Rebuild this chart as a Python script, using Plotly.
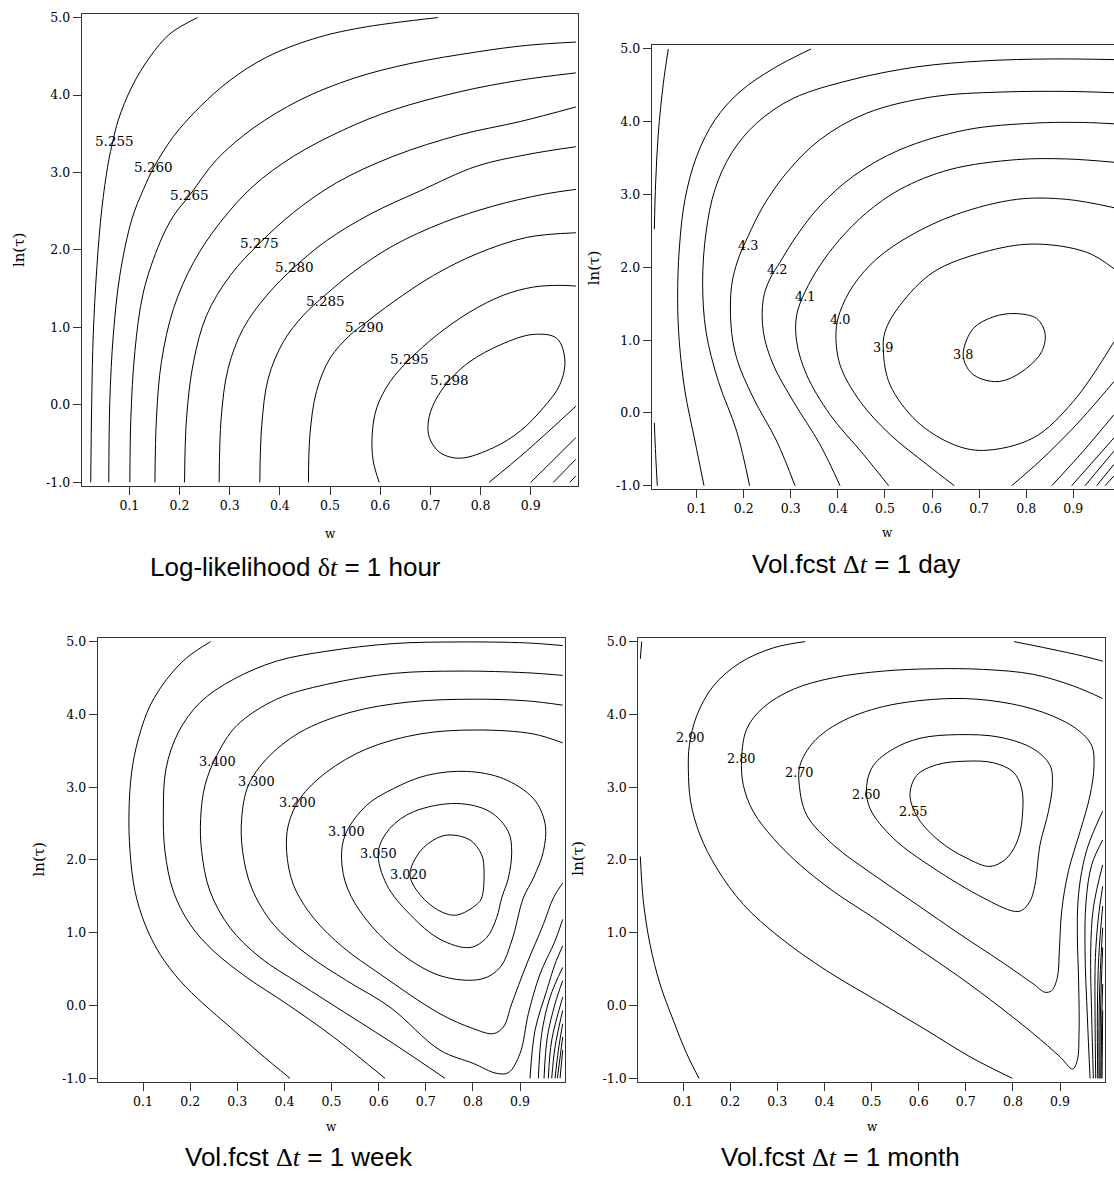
import plotly.graph_objects as go

# ---------------- axis ticks ----------------
X_TICKS = [0.1, 0.2, 0.3, 0.4, 0.5, 0.6, 0.7, 0.8, 0.9]
X_TICK_TEXT = ["0.1", "0.2", "0.3", "0.4", "0.5", "0.6", "0.7", "0.8", "0.9"]
Y_TICKS = [-1, 0, 1, 2, 3, 4, 5]
Y_TICK_TEXT = ["-1.0", "0.0", "1.0", "2.0", "3.0", "4.0", "5.0"]

PANEL_TITLES = [
    "Log-likelihood <span style=\"font-family:'Liberation Serif'\">δ<i>t</i></span> = 1 hour",
    "Vol.fcst <span style=\"font-family:'Liberation Serif'\">Δ<i>t</i></span> = 1 day",
    "Vol.fcst <span style=\"font-family:'Liberation Serif'\">Δ<i>t</i></span> = 1 week",
    "Vol.fcst <span style=\"font-family:'Liberation Serif'\">Δ<i>t</i></span> = 1 month",
]
X_TITLE = "w"
Y_TITLE = "ln(τ)"

# ---------------- panel 1: log-likelihood, 1 hour ----------------
P1_LEVELS = [5.255, 5.260, 5.265, 5.270, 5.275, 5.280, 5.285, 5.290, 5.295, 5.298,
             5.295, 5.290, 5.285, 5.280]
P1_W = [
    [0.023, 0.025, 0.028, 0.035, 0.045, 0.058, 0.067, 0.078, 0.105, 0.141, 0.181, 0.236],
    [0.059, 0.061, 0.068, 0.081, 0.105, 0.128, 0.149, 0.188, 0.241, 0.301, 0.374, 0.467, 0.560, 0.715],
    [0.101, 0.103, 0.111, 0.128, 0.161, 0.188, 0.220, 0.274, 0.347, 0.440, 0.546, 0.659, 0.792, 0.892, 0.990],
    [0.151, 0.154, 0.164, 0.188, 0.228, 0.281, 0.347, 0.427, 0.527, 0.626, 0.759, 0.879, 0.990],
    [0.210, 0.214, 0.228, 0.254, 0.301, 0.360, 0.427, 0.513, 0.626, 0.759, 0.879, 0.990],
    [0.279, 0.283, 0.297, 0.327, 0.374, 0.429, 0.493, 0.580, 0.679, 0.792, 0.892, 0.990],
    [0.360, 0.364, 0.377, 0.407, 0.447, 0.490, 0.546, 0.626, 0.726, 0.826, 0.925, 0.990],
    [0.457, 0.460, 0.473, 0.500, 0.540, 0.569, 0.626, 0.706, 0.792, 0.892, 0.990],
    [0.598, 0.586, 0.584, 0.593, 0.620, 0.659, 0.713, 0.779, 0.845, 0.905, 0.958, 0.990],
    [0.739, 0.779, 0.839, 0.905, 0.952, 0.968, 0.958, 0.925, 0.879, 0.826, 0.759, 0.719, 0.698, 0.696, 0.709, 0.739],
    [0.817, 0.892, 0.990],
    [0.900, 0.990],
    [0.945, 0.990],
    [0.978, 0.990],
]
P1_TAU = [
    [-1.0, 0.047, 0.902, 1.756, 2.526, 3.124, 3.402, 3.679, 4.107, 4.491, 4.791, 5.0],
    [-1.0, 0.047, 0.902, 1.671, 2.397, 2.782, 3.068, 3.466, 3.850, 4.192, 4.491, 4.726, 4.867, 5.0],
    [-1.0, -0.167, 0.688, 1.457, 2.098, 2.440, 2.705, 3.167, 3.573, 3.936, 4.214, 4.406, 4.556, 4.641, 4.684],
    [-1.0, -0.167, 0.560, 1.244, 1.842, 2.355, 2.825, 3.209, 3.551, 3.808, 4.043, 4.192, 4.286],
    [-1.0, -0.167, 0.560, 1.158, 1.671, 2.090, 2.483, 2.868, 3.209, 3.487, 3.658, 3.846],
    [-1.0, -0.167, 0.474, 0.987, 1.415, 1.778, 2.120, 2.462, 2.761, 3.081, 3.231, 3.333],
    [-1.0, -0.252, 0.346, 0.816, 1.158, 1.415, 1.714, 2.056, 2.355, 2.568, 2.718, 2.782],
    [-1.0, -0.380, 0.175, 0.603, 0.902, 1.051, 1.329, 1.671, 1.949, 2.162, 2.222],
    [-1.0, -0.722, -0.380, -0.038, 0.303, 0.590, 0.902, 1.201, 1.415, 1.521, 1.543, 1.534],
    [0.325, 0.560, 0.774, 0.910, 0.859, 0.581, 0.261, -0.038, -0.338, -0.551, -0.688, -0.615, -0.423, -0.209, 0.047, 0.325],
    [-1.0, -0.594, -0.017],
    [-1.0, -0.423],
    [-1.0, -0.701],
    [-1.0, -0.915],
]
P1_LABELS = ["5.255", "5.260", "5.265", "5.275", "5.280", "5.285", "5.290", "5.295", "5.298"]
P1_LABEL_W = [0.070, 0.149, 0.220, 0.360, 0.429, 0.490, 0.569, 0.659, 0.739]
P1_LABEL_TAU = [3.402, 3.068, 2.705, 2.090, 1.778, 1.342, 1.009, 0.590, 0.325]

# ---------------- panel 2: vol forecast, 1 day ----------------
P2_LEVELS = [4.7, 4.7, 4.5, 4.4, 4.3, 4.2, 4.1, 4.0, 3.9, 3.8, 4.0, 4.1, 4.2, 4.3, 4.4, 4.5]
P2_W = [
    [0.0398, 0.0292, 0.0186, 0.0129, 0.0101],
    [0.0101, 0.0129, 0.0164],
    [0.1156, 0.0964, 0.0752, 0.0631, 0.0596, 0.0631, 0.0752, 0.1000, 0.1389, 0.1920, 0.2628, 0.3428],
    [0.2125, 0.1850, 0.1461, 0.1199, 0.1127, 0.1199, 0.1389, 0.1743, 0.2274, 0.3053, 0.4257, 0.5674, 0.7089, 0.8507, 0.9865],
    [0.3089, 0.2699, 0.2204, 0.1850, 0.1729, 0.1743, 0.1884, 0.2097, 0.2416, 0.2911, 0.3619, 0.4612, 0.6027, 0.7443, 0.8860, 0.9865],
    [0.4045, 0.3619, 0.3053, 0.2628, 0.2416, 0.2416, 0.2558, 0.2770, 0.3124, 0.3619, 0.4328, 0.5320, 0.6735, 0.8152, 0.9214, 0.9865],
    [0.5079, 0.4540, 0.3832, 0.3336, 0.3124, 0.3124, 0.3301, 0.3619, 0.4045, 0.4612, 0.5320, 0.6381, 0.7798, 0.8860, 0.9865],
    [0.6473, 0.5886, 0.5107, 0.4471, 0.4045, 0.3960, 0.4045, 0.4328, 0.4824, 0.5532, 0.6523, 0.7798, 0.8860, 0.9865],
    [0.9865, 0.9285, 0.8152, 0.7089, 0.6027, 0.5320, 0.5001, 0.4966, 0.5107, 0.5674, 0.6452, 0.7089, 0.8152, 0.9002, 0.9865],
    [0.6664, 0.6877, 0.7302, 0.7762, 0.8222, 0.8401, 0.8330, 0.8011, 0.7586, 0.7266, 0.6877, 0.6700, 0.6664],
    [0.7691, 0.8293, 0.9002, 0.9567, 0.9865],
    [0.8542, 0.9214, 0.9865],
    [0.8966, 0.9865],
    [0.9249, 0.9865],
    [0.9497, 0.9865],
    [0.9674, 0.9865],
]
P2_TAU = [
    [5.0, 4.527, 3.845, 3.162, 2.525],
    [-0.137, -0.569, -1.0],
    [-1.0, -0.386, 0.296, 0.979, 1.570, 2.252, 2.934, 3.526, 4.026, 4.413, 4.731, 5.0],
    [-1.0, -0.251, 0.433, 1.115, 1.797, 2.479, 3.071, 3.571, 3.981, 4.322, 4.572, 4.754, 4.836, 4.863, 4.854],
    [-1.0, -0.386, 0.205, 0.751, 1.206, 1.752, 2.116, 2.434, 2.843, 3.299, 3.754, 4.118, 4.345, 4.408, 4.417, 4.399],
    [-1.0, -0.433, 0.159, 0.660, 1.115, 1.570, 1.843, 2.070, 2.434, 2.843, 3.253, 3.617, 3.890, 3.981, 3.990, 3.972],
    [-1.0, -0.568, -0.023, 0.524, 0.979, 1.343, 1.661, 2.025, 2.388, 2.752, 3.071, 3.344, 3.480, 3.489, 3.444],
    [-1.0, -0.706, -0.295, 0.159, 0.660, 1.115, 1.388, 1.752, 2.116, 2.434, 2.729, 2.934, 2.934, 2.820],
    [1.980, 2.207, 2.320, 2.207, 1.934, 1.479, 1.115, 0.842, 0.387, -0.114, -0.433, -0.515, -0.342, 0.159, 0.979],
    [0.842, 1.161, 1.320, 1.365, 1.297, 1.092, 0.842, 0.615, 0.456, 0.433, 0.524, 0.683, 0.842],
    [-1.0, -0.659, -0.205, 0.205, 0.433],
    [-1.0, -0.524, -0.023],
    [-1.0, -0.342],
    [-1.0, -0.524],
    [-1.0, -0.706],
    [-1.0, -0.865],
]
P2_LABELS = ["4.3", "4.2", "4.1", "4.0", "3.9", "3.8"]
P2_LABEL_W = [0.2097, 0.2699, 0.3301, 0.4045, 0.4966, 0.6664]
P2_LABEL_TAU = [2.298, 1.971, 1.593, 1.288, 0.897, 0.806]

# ---------------- panel 3: vol forecast, 1 week ----------------
P3_LEVELS = [3.600, 3.500, 3.400, 3.300, 3.200, 3.100, 3.050, 3.020,
             3.400, 3.500, 3.600, 3.700, 3.800, 3.900, 4.000, 4.100]
P3_W = [
    [0.2435, 0.1926, 0.1502, 0.1148, 0.0900, 0.0759, 0.0702, 0.0724, 0.0830, 0.1042, 0.1360, 0.1785, 0.2280, 0.2846, 0.3482, 0.4119],
    [0.9905, 0.9141, 0.7727, 0.6312, 0.4897, 0.3836, 0.2916, 0.2209, 0.1749, 0.1487, 0.1431, 0.1466, 0.1643, 0.1997, 0.2492, 0.3199, 0.4048, 0.5039, 0.6135],
    [0.9905, 0.9141, 0.7727, 0.6312, 0.4897, 0.3836, 0.2987, 0.2563, 0.2315, 0.2223, 0.2244, 0.2421, 0.2846, 0.3482, 0.4331, 0.5321, 0.6312, 0.7408],
    [0.9905, 0.9141, 0.8009, 0.6665, 0.5392, 0.4331, 0.3624, 0.3235, 0.3093, 0.3114, 0.3305, 0.3765, 0.4473, 0.5321, 0.6241, 0.7302, 0.8009, 0.8504, 0.8752, 0.9000, 0.9176, 0.9424, 0.9743, 0.9905],
    [0.9905, 0.9283, 0.8080, 0.6877, 0.5746, 0.4897, 0.4331, 0.4083, 0.4048, 0.4190, 0.4614, 0.5251, 0.6029, 0.7302, 0.8009, 0.8434, 0.8646, 0.8823, 0.9141, 0.9495, 0.9707, 0.9905],
    [0.5321, 0.5746, 0.6312, 0.7019, 0.7868, 0.8646, 0.9283, 0.9530, 0.9495, 0.9283, 0.9070, 0.8823, 0.8575, 0.8186, 0.7302, 0.6312, 0.5604, 0.5286, 0.5215, 0.5321],
    [0.5993, 0.6241, 0.6736, 0.7656, 0.8363, 0.8752, 0.8823, 0.8752, 0.8611, 0.8504, 0.8292, 0.7938, 0.7302, 0.6665, 0.6170, 0.5993],
    [0.6665, 0.6877, 0.7231, 0.7514, 0.7938, 0.8186, 0.8236, 0.8186, 0.8080, 0.7656, 0.7302, 0.6877, 0.6665],
    [0.9212, 0.9318, 0.9566, 0.9743, 0.9905],
    [0.9389, 0.9460, 0.9637, 0.9905],
    [0.9509, 0.9580, 0.9743, 0.9905],
    [0.9601, 0.9672, 0.9905],
    [0.9672, 0.9743, 0.9905],
    [0.9743, 0.9813, 0.9905],
    [0.9792, 0.9905],
    [0.9849, 0.9905],
]
P3_TAU = [
    [5.0, 4.777, 4.481, 4.118, 3.663, 3.208, 2.662, 2.116, 1.570, 1.116, 0.706, 0.342, 0.024, -0.295, -0.658, -1.0],
    [4.945, 4.982, 4.995, 4.973, 4.868, 4.732, 4.481, 4.163, 3.754, 3.253, 2.662, 2.116, 1.570, 1.116, 0.752, 0.388, 0.024, -0.431, -1.0],
    [4.536, 4.572, 4.595, 4.563, 4.413, 4.209, 3.845, 3.435, 3.026, 2.571, 2.116, 1.570, 1.070, 0.661, 0.297, -0.113, -0.522, -1.0],
    [4.127, 4.186, 4.209, 4.172, 4.027, 3.754, 3.390, 3.026, 2.571, 2.116, 1.616, 1.116, 0.706, 0.342, -0.022, -0.613, -0.795, -0.931, -0.922, -0.658, -0.113, 0.433, 0.888, 1.184],
    [3.608, 3.731, 3.786, 3.731, 3.526, 3.208, 2.844, 2.480, 2.116, 1.661, 1.207, 0.797, 0.433, -0.113, -0.317, -0.386, -0.295, 0.024, 0.570, 1.116, 1.479, 1.684],
    [2.389, 2.753, 2.980, 3.162, 3.217, 3.117, 2.844, 2.503, 2.116, 1.752, 1.479, 0.888, 0.524, 0.365, 0.411, 0.797, 1.297, 1.707, 2.116, 2.389],
    [2.116, 2.435, 2.662, 2.776, 2.662, 2.389, 2.116, 1.752, 1.479, 1.207, 0.934, 0.797, 0.911, 1.252, 1.661, 2.116],
    [1.798, 2.116, 2.298, 2.344, 2.275, 2.071, 1.843, 1.479, 1.389, 1.243, 1.297, 1.525, 1.798],
    [-1.0, -0.340, 0.206, 0.570, 0.820],
    [-1.0, -0.386, 0.115, 0.524],
    [-1.0, -0.431, 0.024, 0.342],
    [-1.0, -0.476, 0.115],
    [-1.0, -0.567, -0.067],
    [-1.0, -0.613, -0.249],
    [-1.0, -0.431],
    [-1.0, -0.613],
]
P3_LABELS = ["3.400", "3.300", "3.200", "3.100", "3.050", "3.020"]
P3_LABEL_W = [0.2584, 0.3398, 0.4282, 0.5321, 0.6007, 0.6630]
P3_LABEL_TAU = [3.358, 3.085, 2.789, 2.389, 2.093, 1.798]

# ---------------- panel 4: vol forecast, 1 month ----------------
P4_LEVELS = [3.00, 3.00, 2.90, 2.90, 2.80, 2.70, 2.60, 2.55,
             2.90, 3.00, 3.10, 3.20, 3.30, 3.40, 3.50, 3.60]
P4_W = [
    [0.0123, 0.0094],
    [0.0094, 0.0158, 0.0299, 0.0511, 0.0794, 0.1077, 0.1339],
    [0.3588, 0.2916, 0.2209, 0.1643, 0.1290, 0.1134, 0.1113, 0.1162, 0.1360, 0.1714, 0.2280, 0.3058, 0.4048, 0.5109, 0.6170, 0.7090, 0.7988],
    [0.8023, 0.8787, 0.9495, 0.9905],
    [0.9905, 0.9283, 0.8434, 0.7373, 0.6312, 0.5251, 0.4190, 0.3341, 0.2704, 0.2351, 0.2244, 0.2280, 0.2492, 0.2916, 0.3482, 0.4190, 0.5039, 0.5958, 0.6877, 0.7727, 0.8434, 0.9000, 0.9268, 0.9367, 0.9403, 0.9396, 0.9367, 0.9381, 0.9460, 0.9601, 0.9905],
    [0.6665, 0.7727, 0.8646, 0.9353, 0.9672, 0.9721, 0.9637, 0.9424, 0.9176, 0.9035, 0.8985, 0.8944, 0.8823, 0.8682, 0.8434, 0.7727, 0.6877, 0.5958, 0.5039, 0.4190, 0.3624, 0.3468, 0.3482, 0.3765, 0.4331, 0.5251, 0.6665],
    [0.6843, 0.7727, 0.8434, 0.8788, 0.8837, 0.8752, 0.8575, 0.8469, 0.8363, 0.8186, 0.8009, 0.7373, 0.6312, 0.5463, 0.4968, 0.4897, 0.5039, 0.5463, 0.6029, 0.6843],
    [0.7019, 0.7585, 0.8009, 0.8186, 0.8207, 0.8116, 0.7868, 0.7514, 0.7019, 0.6453, 0.5993, 0.5816, 0.5960, 0.6382, 0.7019],
    [0.9637, 0.9580, 0.9530, 0.9552, 0.9672, 0.9905],
    [0.9707, 0.9672, 0.9651, 0.9707, 0.9905],
    [0.9757, 0.9743, 0.9750, 0.9813, 0.9905],
    [0.9800, 0.9792, 0.9821, 0.9905],
    [0.9828, 0.9828, 0.9856, 0.9905],
    [0.9849, 0.9856, 0.9905],
    [0.9870, 0.9884, 0.9905],
    [0.9891, 0.9905],
]
P4_TAU = [
    [5.0, 4.763],
    [2.048, 1.434, 0.843, 0.297, -0.204, -0.658, -1.0],
    [5.0, 4.914, 4.709, 4.390, 3.981, 3.572, 3.253, 2.799, 2.344, 1.889, 1.389, 0.934, 0.479, 0.069, -0.340, -0.704, -1.0],
    [5.0, 4.900, 4.800, 4.732],
    [4.218, 4.390, 4.550, 4.618, 4.627, 4.595, 4.504, 4.345, 4.095, 3.799, 3.390, 3.026, 2.662, 2.298, 1.934, 1.570, 1.207, 0.797, 0.388, -0.022, -0.386, -0.704, -0.872, -0.749, -0.386, 0.297, 0.979, 1.434, 1.843, 2.207, 2.671],
    [4.218, 4.172, 4.027, 3.799, 3.572, 3.299, 2.889, 2.389, 1.843, 1.297, 0.752, 0.388, 0.206, 0.183, 0.297, 0.615, 0.979, 1.389, 1.798, 2.207, 2.617, 3.026, 3.299, 3.617, 3.890, 4.108, 4.218],
    [3.722, 3.686, 3.526, 3.299, 3.026, 2.662, 2.207, 1.661, 1.434, 1.307, 1.297, 1.479, 1.889, 2.298, 2.708, 3.026, 3.299, 3.526, 3.672, 3.722],
    [3.358, 3.335, 3.208, 2.980, 2.662, 2.298, 2.025, 1.912, 2.025, 2.253, 2.571, 2.889, 3.162, 3.308, 3.358],
    [-1.0, -0.158, 0.752, 1.434, 1.934, 2.275],
    [-1.0, -0.158, 0.752, 1.343, 1.934],
    [-1.0, -0.158, 0.661, 1.207, 1.639],
    [-1.0, -0.158, 0.661, 1.366],
    [-1.0, -0.158, 0.479, 1.070],
    [-1.0, -0.158, 0.797],
    [-1.0, -0.249, 0.297],
    [-1.0, -0.067],
]
P4_LABELS = ["2.90", "2.80", "2.70", "2.60", "2.55"]
P4_LABEL_W = [0.1148, 0.2244, 0.3461, 0.4897, 0.5889]
P4_LABEL_TAU = [3.686, 3.390, 3.199, 2.903, 2.671]

# ---------------- figure ----------------
FIG_W, FIG_H = 1114, 1178
FRAME = "#333333"

def px_x(p):
    return p / FIG_W

def px_y(p):
    return 1 - p / FIG_H

# panel frames in pixels: left, right, top, bottom ; data ranges
PANELS = [
    dict(W=P1_W, T=P1_TAU, LT=P1_LABELS, LW=P1_LABEL_W, LY=P1_LABEL_TAU,
         box=(81.7, 578.3, 10.0, 485.0), xr=[0.0050, 0.9948], yr=[-1.043, 5.047],
         lab=13.5, xt=(330.0, 533.7), yt=(19.8, 248.0), tt=(295.0, 566.5), mirror_y=True),
    dict(W=P2_W, T=P2_TAU, LT=P2_LABELS, LW=P2_LABEL_W, LY=P2_LABEL_TAU,
         box=(651.7, 1114.0, 41.7, 488.3), xr=[0.0045, 0.9865], yr=[-1.045, 5.049],
         lab=12.8, xt=(887.0, 532.7), yt=(594.0, 266.0), tt=(856.5, 564.0), mirror_y=False),
    dict(W=P3_W, T=P3_TAU, LT=P3_LABELS, LW=P3_LABEL_W, LY=P3_LABEL_TAU,
         box=(97.7, 565.0, 638.3, 1085.0), xr=[0.0038, 0.9954], yr=[-1.045, 5.050],
         lab=12.8, xt=(331.0, 1130.5), yt=(39.4, 861.0), tt=(299.0, 1160.7), mirror_y=True),
    dict(W=P4_W, T=P4_TAU, LT=P4_LABELS, LW=P4_LABEL_W, LY=P4_LABEL_TAU,
         box=(638.3, 1105.0, 638.3, 1085.0), xr=[0.0051, 0.9954], yr=[-1.045, 5.050],
         lab=12.8, xt=(872.0, 1130.5), yt=(578.5, 861.0), tt=(840.6, 1160.7), mirror_y=True),
]

fig = go.Figure()
layout = dict(
    width=FIG_W, height=FIG_H,
    margin=dict(l=0, r=0, t=0, b=0, pad=0),
    paper_bgcolor="white", plot_bgcolor="white",
    showlegend=False,
    font=dict(family="DejaVu Serif", color="#000"),
)
annotations = []

for i, p in enumerate(PANELS):
    xname = "x" if i == 0 else f"x{i + 1}"
    yname = "y" if i == 0 else f"y{i + 1}"
    for ws, ts in zip(p["W"], p["T"]):
        fig.add_trace(go.Scatter(
            x=ws, y=ts, mode="lines", xaxis=xname, yaxis=yname,
            line=dict(color="black", width=1, shape="spline", smoothing=1.0),
            hoverinfo="skip", showlegend=False,
        ))
    l, r, t, b = p["box"]
    common = dict(showline=True, linecolor=FRAME, linewidth=1.2, ticks="outside",
                  ticklen=8, tickwidth=1, tickcolor=FRAME, showgrid=False,
                  zeroline=False, fixedrange=True,
                  tickfont=dict(family="DejaVu Serif", size=12.5, color="#000"))
    layout["xaxis" if i == 0 else f"xaxis{i + 1}"] = dict(
        domain=[px_x(l), min(1.0, px_x(r))], range=p["xr"], anchor=yname,
        tickvals=X_TICKS, ticktext=X_TICK_TEXT, mirror=True, **common)
    layout["yaxis" if i == 0 else f"yaxis{i + 1}"] = dict(
        domain=[px_y(b), px_y(t)], range=p["yr"], anchor=xname,
        tickvals=Y_TICKS, ticktext=Y_TICK_TEXT, mirror=p["mirror_y"], **common)
    for txt, lw, ly in zip(p["LT"], p["LW"], p["LY"]):
        annotations.append(dict(
            x=lw, y=ly, xref=xname, yref=yname, text=txt, showarrow=False,
            xanchor="center", yanchor="middle",
            font=dict(family="DejaVu Serif", size=p["lab"], color="#000")))
    annotations.append(dict(
        x=px_x(p["xt"][0]), y=px_y(p["xt"][1]), xref="paper", yref="paper",
        text=X_TITLE, showarrow=False, xanchor="center", yanchor="middle",
        font=dict(family="DejaVu Serif", size=12, color="#000")))
    annotations.append(dict(
        x=px_x(p["yt"][0]), y=px_y(p["yt"][1]), xref="paper", yref="paper",
        text=Y_TITLE, showarrow=False, xanchor="center", yanchor="middle",
        textangle=-90, font=dict(family="DejaVu Serif", size=15, color="#000")))
    annotations.append(dict(
        x=px_x(p["tt"][0]), y=px_y(p["tt"][1]), xref="paper", yref="paper",
        text=PANEL_TITLES[i], showarrow=False, xanchor="center", yanchor="middle",
        font=dict(family="Liberation Sans", size=26, color="#000")))

layout["annotations"] = annotations
fig.update_layout(**layout)

fig.write_html("out.html", post_script="document.body.style.margin='0';",
               config={"displayModeBar": False})
